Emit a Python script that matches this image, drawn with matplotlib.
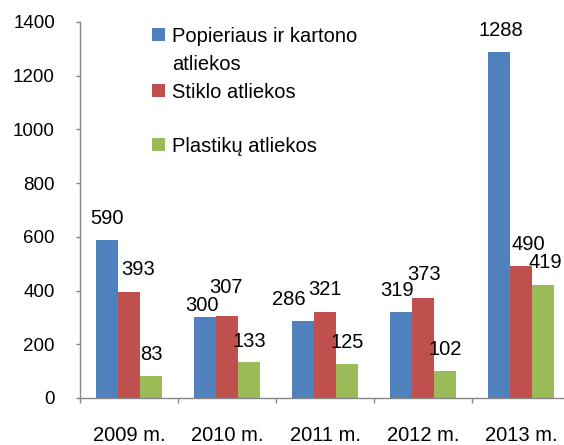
import matplotlib
matplotlib.use("Agg")
import matplotlib.pyplot as plt
import numpy as np
from matplotlib.patches import Rectangle

plt.rcParams['font.family'] = ['Liberation Sans', 'DejaVu Sans']

# data
years = ["2009 m.", "2010 m.", "2011 m.", "2012 m.", "2013 m."]
series_names = ["Popieriaus ir kartono\natliekos", "Stiklo atliekos", "Plastikų atliekos"]
popierius = [590, 300, 286, 319, 1288]
stiklas = [393, 307, 321, 373, 490]
plastikas = [83, 133, 125, 102, 419]
colors = ["#4F81BD", "#C0504D", "#9BBB59"]

# label offsets in pixels (dx, dy) relative to bar top centre
lbl_dx = [[0, -3, -14, -4, 2], [9, -1, 0, 1, 7], [0, 0, 0, 0, 2]]
lbl_dy = [[21, 12, 22, 22, 22], [23, 28, 22, 23, 22], [21, 21, 22, 21, 23]]

W, H = 564, 445
fig = plt.figure(figsize=(W / 100, H / 100), dpi=100)
ax = fig.add_axes([80 / W, 47 / H, 490 / W, 376 / H])

x = np.arange(len(years))
bw = 0.2245
px2pt = 72 / 100
for k, vals in enumerate([popierius, stiklas, plastikas]):
    bars = ax.bar(x + (k - 1) * bw, vals, bw, color=colors[k], linewidth=0)
    for j, b in enumerate(bars):
        ax.annotate(str(vals[j]), (b.get_x() + b.get_width() / 2, b.get_height()),
                    xytext=(lbl_dx[k][j] * px2pt, lbl_dy[k][j] * px2pt),
                    textcoords="offset points", ha="center", va="center",
                    fontsize=14.5, annotation_clip=False)

ax.set_xlim(-0.5, len(years) - 0.5)
ax.set_ylim(0, 1400)
ax.set_yticks(range(0, 1401, 200))
ax.tick_params(axis="y", labelsize=13.5, length=4 * px2pt, width=1, color="#868686", pad=21 * px2pt)
ax.set_xticks(np.arange(-0.5, len(years), 1))
ax.set_xticklabels([])
ax.set_xticks(x, minor=True)
ax.set_xticklabels(years, minor=True, fontsize=14.5)
ax.tick_params(axis="x", which="major", length=5 * px2pt, width=1, color="#868686")
ax.tick_params(axis="x", which="minor", length=0, pad=28 * px2pt)
for s in ["top", "right"]:
    ax.spines[s].set_visible(False)
for s in ["left", "bottom"]:
    ax.spines[s].set_color("#868686")
    ax.spines[s].set_linewidth(1)

# legend drawn by hand (Excel style: square at first line)
leg_y = [34, 90, 144]
for k, name in enumerate(series_names):
    yc = H - leg_y[k]
    fig.patches.append(Rectangle(((152) / W, (yc - 6.5) / H), 13 / W, 13 / H,
                                 transform=fig.transFigure, facecolor=colors[k],
                                 edgecolor="none"))
    for li, line in enumerate(name.split("\n")):
        fig.text(172 / W, (yc - li * 28) / H, line, fontsize=14.5,
                 ha="left", va="center_baseline")

fig.savefig("out.png", dpi=100)
